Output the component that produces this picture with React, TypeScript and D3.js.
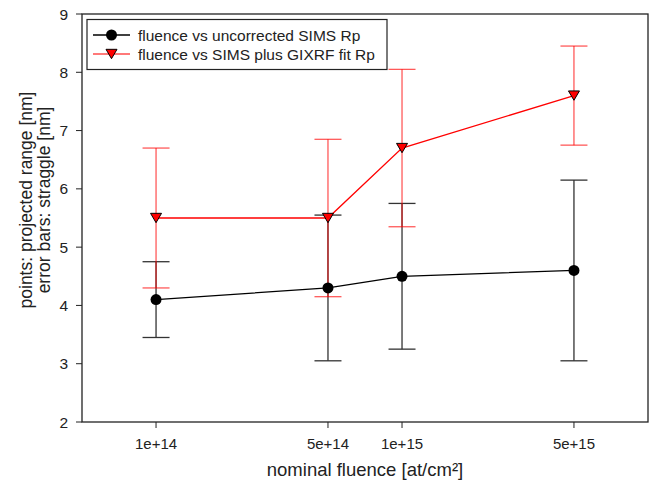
import React from 'react';
import * as d3 from 'd3';

const fluence = [1e14, 5e14, 1e15, 5e15];
const xTickLabels = ['1e+14', '5e+14', '1e+15', '5e+15'];
const yTicks = [2, 3, 4, 5, 6, 7, 8, 9];

// fluence vs uncorrected SIMS Rp
const simsRp = [4.1, 4.3, 4.5, 4.6];
const simsLow = [3.45, 3.05, 3.25, 3.05];
const simsHigh = [4.75, 5.55, 5.75, 6.15];

// fluence vs SIMS plus GIXRF fit Rp
const gixrfRp = [5.5, 5.5, 6.7, 7.6];
const gixrfLow = [4.3, 4.15, 5.35, 6.75];
const gixrfHigh = [6.7, 6.85, 8.05, 8.45];

const W = 652;
const H = 483;
const margin = { top: 14, right: 4, bottom: 61, left: 82 };

export default function App() {
  const x = d3.scaleLog()
    .domain([5e13, 1e16])
    .range([margin.left, W - margin.right]);
  const y = d3.scaleLinear()
    .domain([2, 9])
    .range([H - margin.bottom, margin.top]);

  const line = d3.line<number>()
    .x((_, i) => x(fluence[i]))
    .y(d => y(d));

  const cap = 13.5;
  const font = 'Liberation Sans, Arial, sans-serif';

  const errorBars = (lo: number[], hi: number[], color: string, key: string) =>
    fluence.map((f, i) => {
      const cx = x(f);
      return (
        <g key={key + i} stroke={color} strokeWidth={1.3}>
          <line x1={cx} x2={cx} y1={y(lo[i])} y2={y(hi[i])} />
          <line x1={cx - cap} x2={cx + cap} y1={y(lo[i])} y2={y(lo[i])} />
          <line x1={cx - cap} x2={cx + cap} y1={y(hi[i])} y2={y(hi[i])} />
        </g>
      );
    });

  const tri = (cx: number, cy: number, s: number) =>
    `M${cx - s},${cy - s * 0.85}L${cx + s},${cy - s * 0.85}L${cx},${cy + s * 0.85}Z`;

  const x0 = margin.left;
  const x1 = W - margin.right;
  const y0 = margin.top;
  const y1 = H - margin.bottom;

  return (
    <svg width={W} height={H} style={{ position: 'absolute', left: 0, top: 0 }} fontFamily={font}>
      <rect x={0} y={0} width={W} height={H} fill="#fff" />
      {/* frame */}
      <rect x={x0} y={y0} width={x1 - x0} height={y1 - y0} fill="none" stroke="#222" strokeWidth={1.3} />

      {/* y axis ticks */}
      {yTicks.map(t => (
        <g key={'y' + t}>
          <line x1={x0 - 6} x2={x0} y1={y(t)} y2={y(t)} stroke="#222" strokeWidth={1} />
          <text x={x0 - 14} y={y(t)} dy="0.36em" textAnchor="end" fontSize={15.5} fill="#222">{t}</text>
        </g>
      ))}

      {/* x axis ticks */}
      {fluence.map((f, i) => (
        <g key={'x' + i}>
          <line x1={x(f)} x2={x(f)} y1={y1} y2={y1 + 6} stroke="#222" strokeWidth={1} />
          <text x={x(f)} y={449} textAnchor="middle" fontSize={15} fill="#222">{xTickLabels[i]}</text>
        </g>
      ))}

      {/* axis titles */}
      <text x={365} y={476} textAnchor="middle" fontSize={18.5} fill="#222">nominal fluence [at/cm²]</text>
      <text transform="translate(32,200) rotate(-90)" textAnchor="middle" fontSize={17.5} fill="#222">
        <tspan x={0} dy={0}>points: projected range [nm]</tspan>
        <tspan x={0} dy={18}>error bars: straggle [nm]</tspan>
      </text>

      {/* error bars */}
      {errorBars(simsLow, simsHigh, '#333', 'se')}
      {errorBars(gixrfLow, gixrfHigh, 'rgba(255,0,0,0.65)', 'ge')}

      {/* lines */}
      <path d={line(simsRp) || ''} fill="none" stroke="#000" strokeWidth={1.3} />
      <path d={line(gixrfRp) || ''} fill="none" stroke="#ff0000" strokeWidth={1.3} />

      {/* markers */}
      {simsRp.map((v, i) => (
        <circle key={'sc' + i} cx={x(fluence[i])} cy={y(v)} r={5.5} fill="#000" />
      ))}
      {gixrfRp.map((v, i) => (
        <path key={'gt' + i} d={tri(x(fluence[i]), y(v), 5.5)} fill="#ff0000" stroke="#000" strokeWidth={1} />
      ))}

      {/* legend */}
      <rect x={87} y={19.5} width={300} height={50} fill="#fff" stroke="#222" strokeWidth={1.2} />
      <line x1={93} x2={130} y1={35} y2={35} stroke="#000" strokeWidth={1.3} />
      <circle cx={111.5} cy={35} r={5.5} fill="#000" />
      <text x={138} y={35} dy="0.36em" fontSize={15.5} fill="#222">fluence vs uncorrected SIMS Rp</text>
      <line x1={93} x2={130} y1={54} y2={54} stroke="rgba(255,0,0,0.7)" strokeWidth={1.3} />
      <path d={tri(111.5, 54, 5.5)} fill="#ff0000" stroke="#000" strokeWidth={1} />
      <text x={138} y={54} dy="0.36em" fontSize={15.5} fill="#222">fluence vs SIMS plus GIXRF fit Rp</text>
    </svg>
  );
}
